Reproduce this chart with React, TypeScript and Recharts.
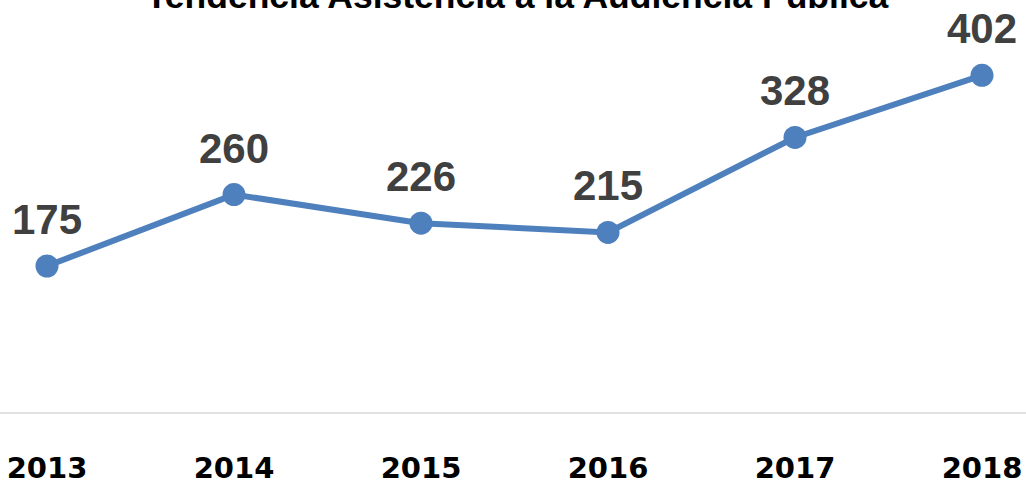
import React from 'react';
import { LineChart, Line, XAxis, YAxis, LabelList } from 'recharts';

const years = ['2013', '2014', '2015', '2016', '2017', '2018'];
const attendance = [175, 260, 226, 215, 328, 402];
const title = 'Tendencia Asistencia a la Audiencia Pública';

const data = years.map((y, i) => ({ year: y, value: attendance[i] }));

const LINE = '#4e80bd';

const Tick = (props: any) => {
  const { x, y, payload } = props;
  return (
    <text x={x} y={y} dy={65} textAnchor="middle" fontFamily="'DejaVu Sans', sans-serif" fontWeight="bold" fontSize={29} fill="#000">
      {payload.value}
    </text>
  );
};

const ValueLabel = (props: any) => {
  const { x, y, value } = props;
  return (
    <text x={x} y={y} dy={-32} textAnchor="middle" fontFamily="'Liberation Sans', Arial, sans-serif" fontWeight="bold" fontSize={42} fill="#404040">
      {value}
    </text>
  );
};

export default function App() {
  return (
    <div style={{ position: 'absolute', left: 0, top: 0, width: 1026, height: 483, background: '#fff' }}>
      <LineChart width={1026} height={483} data={data} margin={{ top: 35, right: 0, bottom: 0, left: 0 }}>
        <XAxis
          dataKey="year"
          height={70}
          padding={{ left: 47, right: 44 }}
          tickLine={false}
          tickSize={0}
          tickMargin={0}
          axisLine={{ stroke: '#d9d9d9', strokeWidth: 1.5 }}
          tick={<Tick />}
          interval={0}
        />
        <YAxis hide domain={[0, 450]} />
        <Line
          type="linear"
          dataKey="value"
          stroke={LINE}
          strokeWidth={6}
          dot={{ r: 11.5, fill: LINE, stroke: 'none' }}
          isAnimationActive={false}
        >
          <LabelList dataKey="value" content={<ValueLabel />} />
        </Line>
      </LineChart>
      <svg width={1026} height={40} style={{ position: 'absolute', left: 0, top: 0 }}>
        <text x={517} y={8} textAnchor="middle" fontFamily="'Liberation Sans', Arial, sans-serif" fontWeight="bold" fontSize={35.5} fill="#000">
          {title}
        </text>
      </svg>
    </div>
  );
}
